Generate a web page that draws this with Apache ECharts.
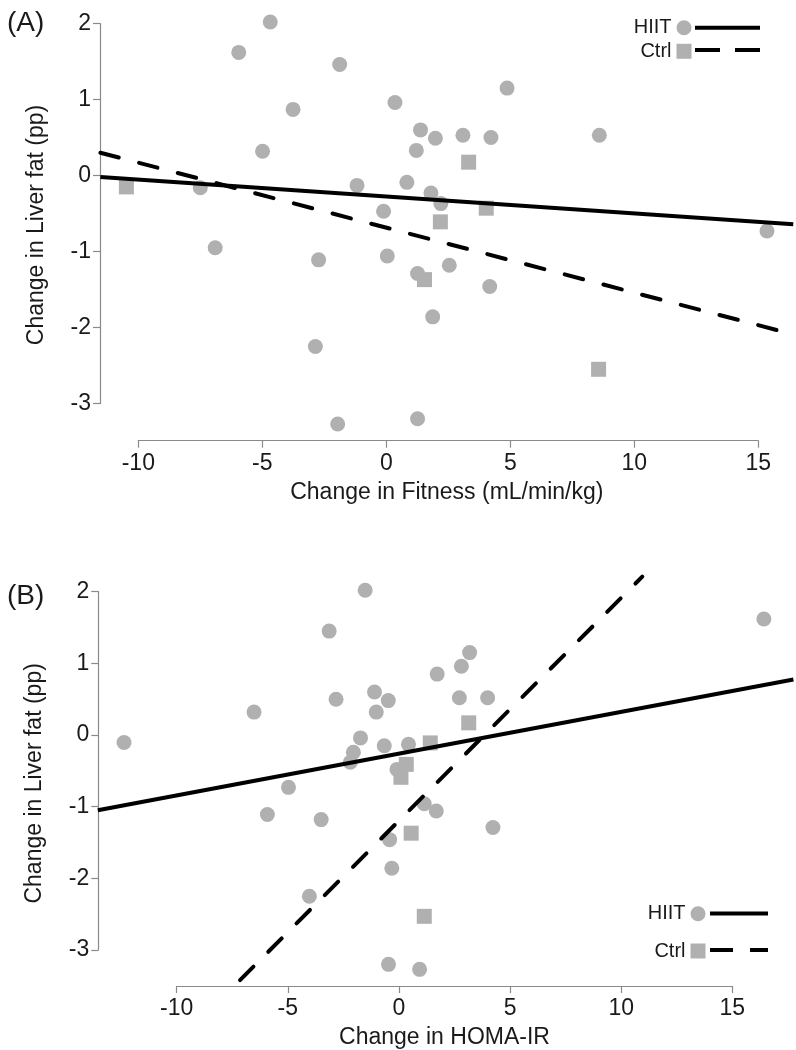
<!DOCTYPE html>
<html><head><meta charset="utf-8">
<script src="https://cdn.jsdelivr.net/npm/echarts@6/dist/echarts.min.js"></script>
<style>html,body{margin:0;padding:0;background:#fff}#c{width:796px;height:1050px}</style>
</head><body><div id="c"></div>
<script>
// ---- tick labels ----
const xTicks = [-10, -5, 0, 5, 10, 15];
const yTicks = [-3, -2, -1, 0, 1, 2];

// ---- Panel A: Change in Fitness vs Change in Liver fat ----
const hiitA = [
  [-4.68, 2.02], [-5.95, 1.62], [-1.88, 1.46], [-3.76, 0.87], [-4.99, 0.32],
  [0.35, 0.96], [4.87, 1.15], [1.38, 0.60], [1.98, 0.49], [3.09, 0.53],
  [4.22, 0.50], [1.21, 0.33], [8.59, 0.53], [-7.50, -0.16], [-1.18, -0.13],
  [0.83, -0.09], [1.80, -0.23], [2.20, -0.37], [-0.11, -0.47], [-6.90, -0.95],
  [-2.73, -1.11], [0.04, -1.06], [2.54, -1.18], [1.26, -1.29], [4.17, -1.46],
  [1.87, -1.86], [-2.86, -2.25], [-1.96, -3.27], [1.26, -3.20], [15.35, -0.73]
];
const ctrlA = [
  [-10.48, -0.15], [3.32, 0.175], [4.03, -0.43], [2.18, -0.61], [1.54, -1.37], [8.56, -2.55]
];
const fitHiitA = [[-11.53, -0.02], [16.41, -0.64]];
const fitCtrlA = [[-11.53, 0.30], [16.41, -2.09]];

// ---- Panel B: Change in HOMA-IR vs Change in Liver fat ----
const hiitB = [
  [-12.37, -0.105], [-6.52, 0.32], [-1.52, 2.02], [-3.14, 1.45], [-2.83, 0.50],
  [-1.10, 0.60], [-0.48, 0.48], [-1.02, 0.32], [-1.73, -0.04], [-0.66, -0.15],
  [-2.05, -0.24], [-2.19, -0.38], [-0.09, -0.48], [3.18, 1.15], [2.81, 0.96],
  [1.72, 0.85], [2.72, 0.52], [3.99, 0.52], [0.43, -0.13], [-4.97, -0.73],
  [-5.92, -1.11], [-3.50, -1.18], [1.14, -0.96], [1.68, -1.06], [4.23, -1.29],
  [-0.42, -1.46], [-0.32, -1.86], [-4.03, -2.25], [-0.47, -3.20], [0.93, -3.27],
  [16.42, 1.62]
];
const ctrlB = [
  [3.14, 0.17], [1.41, -0.11], [0.33, -0.41], [0.09, -0.59], [0.55, -1.37], [1.14, -2.53]
];
const fitHiitB = [[-13.55, -1.05], [17.75, 0.775]];
const fitCtrlB = [[-7.15, -3.42], [10.95, 2.21]];

const panelLabels = ['(A)', '(B)'];
const xTitles = ['Change in Fitness (mL/min/kg)', 'Change in HOMA-IR'];
const yTitle = 'Change in Liver fat (pp)';
const groupNames = ['HIIT', 'Ctrl'];

// ---- styling ----
const FONT = 'Liberation Sans, Arial, sans-serif';
const PT = '#b0b0b0';
const AX = '#8a8a8a';
const TX = '#1a1a1a';
const FS = 23;
const DASH = [19, 21];
const ICON_SOLID_A = 'path://M0,0H65V4H0Z';
const ICON_DASH_A = 'path://M0,0H25V4H0Z M40,0H65V4H40Z';
const ICON_SOLID_B = 'path://M0,0H58V4H0Z';
const ICON_DASH_B = 'path://M0,0H23V4H0Z M40,0H58V4H40Z';

function xAxisCfg(idx, offset, nameGap, shift) {
  return {
    type: 'value', gridIndex: idx, min: xTicks[0], max: xTicks[xTicks.length - 1],
    interval: xTicks[1] - xTicks[0], offset: offset,
    name: xTitles[idx], nameLocation: 'middle', nameGap: nameGap,
    nameTextStyle: { fontFamily: FONT, fontSize: FS, color: TX, padding: [0, shift, 0, 0] },
    axisLine: { onZero: false, lineStyle: { color: AX, width: 1.2 } },
    axisTick: { show: true, length: 7, lineStyle: { color: AX, width: 1.2 } },
    axisLabel: { fontFamily: FONT, fontSize: FS, color: TX, margin: 11 },
    splitLine: { show: false }
  };
}
function yAxisCfg(idx, offset, shift) {
  return {
    type: 'value', gridIndex: idx, min: yTicks[0], max: yTicks[yTicks.length - 1],
    interval: yTicks[1] - yTicks[0], offset: offset,
    name: yTitle, nameLocation: 'middle', nameGap: 52,
    nameTextStyle: { fontFamily: FONT, fontSize: FS, color: TX, padding: [0, shift, 0, 0] },
    axisLine: { onZero: false, lineStyle: { color: AX, width: 1.2 } },
    axisTick: { show: true, length: 7, lineStyle: { color: AX, width: 1.2 } },
    axisLabel: { fontFamily: FONT, fontSize: FS, color: TX, margin: 9 },
    splitLine: { show: false }
  };
}
function scatter(name, idx, data, symbol) {
  return {
    type: 'scatter', name: name, xAxisIndex: idx, yAxisIndex: idx, data: data,
    symbol: symbol, symbolSize: 15, clip: false, z: 2,
    itemStyle: { color: PT, opacity: 1 }
  };
}
function fitLine(name, idx, data, dashed) {
  return {
    type: 'lines', name: name, coordinateSystem: 'cartesian2d', xAxisIndex: idx, yAxisIndex: idx,
    polyline: false, clip: false, z: 5, silent: true, data: [{ coords: data }],
    itemStyle: { color: '#000' },
    lineStyle: { color: '#000', opacity: 1, width: 4, curveness: 0,
      type: dashed ? DASH : 'solid', cap: dashed ? 'round' : 'butt' }
  };
}
const lineLegendBase = {
  formatter: () => '', orient: 'vertical', itemHeight: 4, selectedMode: false, padding: 0,
  textStyle: { fontSize: 4, lineHeight: 4, padding: 0 },
  itemStyle: { color: '#000', borderWidth: 0 }
};
const symLegendBase = {
  formatter: n => n.split(' ')[0], orient: 'vertical', align: 'right', padding: 0,
  itemWidth: 15, itemHeight: 15, selectedMode: false,
  textStyle: { fontFamily: FONT, fontSize: 20, color: TX }
};

const chart = echarts.init(document.getElementById('c'), null, { renderer: 'canvas' });
chart.setOption({
  animation: false,
  backgroundColor: '#fff',
  title: [
    { text: panelLabels[0], left: 2, top: 4, textStyle: { fontFamily: FONT, fontSize: 28, fontWeight: 'normal', color: TX } },
    { text: panelLabels[1], left: 2, top: 577, textStyle: { fontFamily: FONT, fontSize: 28, fontWeight: 'normal', color: TX } }
  ],
  grid: [
    { left: 138.3, width: 620, top: 23.5, height: 380 },
    { left: 176.7, width: 555.6, top: 591.7, height: 365 }
  ],
  xAxis: [xAxisCfg(0, 37.2, 40, 3), xAxisCfg(1, 36, 40, 20)],
  yAxis: [yAxisCfg(0, 38.3, 23), yAxisCfg(1, 78.4, 25)],
  legend: [
    Object.assign({}, symLegendBase, { data: groupNames.map(n => n + ' A'), right: 104.5, top: 17.7, itemGap: 3.6 }),
    Object.assign({}, lineLegendBase, { data: [{ name: 'HIIT fitA', icon: ICON_SOLID_A }, { name: 'Ctrl fitA', icon: ICON_DASH_A }],
      left: 695, top: 25.7, itemWidth: 65, itemGap: 18.3 }),
    Object.assign({}, symLegendBase, { data: groupNames.map(n => n + ' B'), right: 90.5, top: 903.7, itemGap: 17.3 }),
    Object.assign({}, lineLegendBase, { data: [{ name: 'HIIT fitB', icon: ICON_SOLID_B }, { name: 'Ctrl fitB', icon: ICON_DASH_B }],
      left: 710, top: 911.4, itemWidth: 58, itemGap: 32.6 })
  ],
  series: [
    scatter('HIIT A', 0, hiitA, 'circle'),
    scatter('Ctrl A', 0, ctrlA, 'rect'),
    fitLine('HIIT fitA', 0, fitHiitA, false),
    fitLine('Ctrl fitA', 0, fitCtrlA, true),
    scatter('HIIT B', 1, hiitB, 'circle'),
    scatter('Ctrl B', 1, ctrlB, 'rect'),
    fitLine('HIIT fitB', 1, fitHiitB, false),
    fitLine('Ctrl fitB', 1, fitCtrlB, true)
  ]
});
</script>
</body></html>
